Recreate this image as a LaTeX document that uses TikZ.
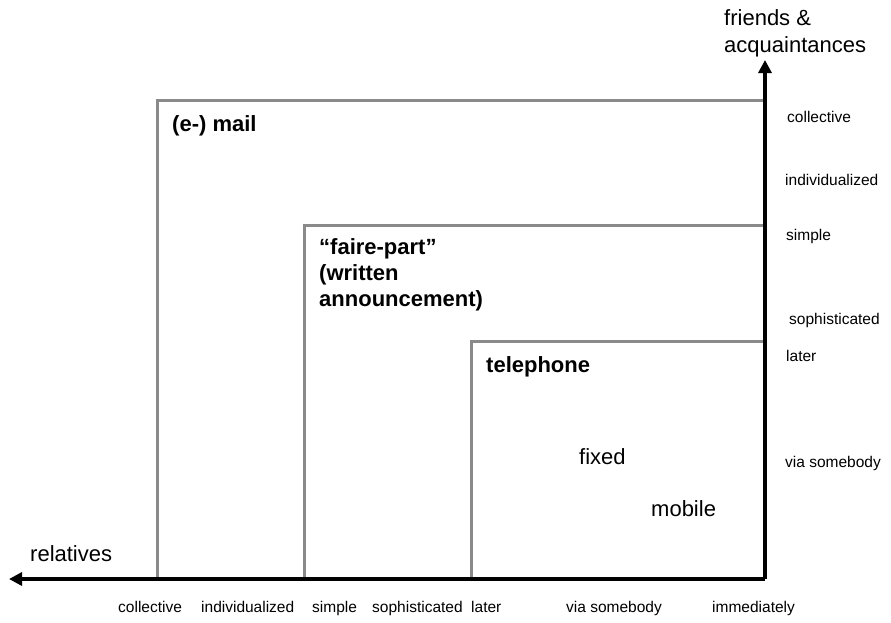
\documentclass[tikz,border=0pt]{standalone}
\usepackage{fontspec}
\setmainfont{Liberation Sans}
\usepackage{xcolor}
\usetikzlibrary{arrows.meta}

\definecolor{boxgray}{RGB}{138,138,138}

\begin{document}
\begin{tikzpicture}[x=1pt,y=-1pt,
  channel/.style={draw=boxgray,line width=3pt},
  axisline/.style={line width=3.2pt,-{Triangle[length=13pt,width=13pt]}},
  big/.style={font=\fontsize{22}{26}\selectfont,inner sep=0pt,anchor=base west},
  medium/.style={font=\fontsize{22}{26}\selectfont\bfseries,inner sep=0pt,anchor=base west},
  tick/.style={font=\fontsize{15.5}{19}\selectfont,inner sep=0pt,anchor=base west}]
  \useasboundingbox (0,0) rectangle (891,622);

  % the three channels
  \draw[channel] (765,100) -- (157,100) -- (157,579);
  \draw[channel] (765,225) -- (304,225) -- (304,579);
  \draw[channel] (765,341) -- (471,341) -- (471,579);

  % axes
  \coordinate (origin) at (765,579);
  \coordinate (relend) at (9,579);
  \coordinate (friendend) at (765,60);
  \draw[axisline] (origin) -- (relend);
  \draw[axisline] (origin) -- (friendend);

  \node[big] (rel) at (30,561) {relatives};
  \node[big] (fr1) at (724,25) {friends \&};
  \node[big] (fr2) at (724,52) {acquaintances};

  \node[medium] (mail) at (172,131) {(e-) mail};
  \node[medium] (faire) at (319,254) {“faire-part”};
  \node[medium] (written) at (319,280) {(written};
  \node[medium] (announce) at (319,306) {announcement)};
  \node[medium] (phone) at (486,372) {telephone};
  \node[big] (fixed) at (579,464) {fixed};
  \node[big] (mobile) at (651,516) {mobile};

  % right side
  \node[tick] (rcoll) at (787,122) {collective};
  \node[tick] (rind) at (785,185) {individualized};
  \node[tick] (rsim) at (786,240) {simple};
  \node[tick] (rsop) at (789,324) {sophisticated};
  \node[tick] (rlat) at (786,361) {later};
  \node[tick] (rvia) at (785,467) {via somebody};

  % bottom
  \node[tick] (bcoll) at (118,612) {collective};
  \node[tick] (bind) at (201,612) {individualized};
  \node[tick] (bsim) at (312,612) {simple};
  \node[tick] (bsop) at (372,612) {sophisticated};
  \node[tick] (blat) at (471,612) {later};
  \node[tick] (bvia) at (566,612) {via somebody};
  \node[tick] (bimm) at (712,612) {immediately};
\end{tikzpicture}
\end{document}
